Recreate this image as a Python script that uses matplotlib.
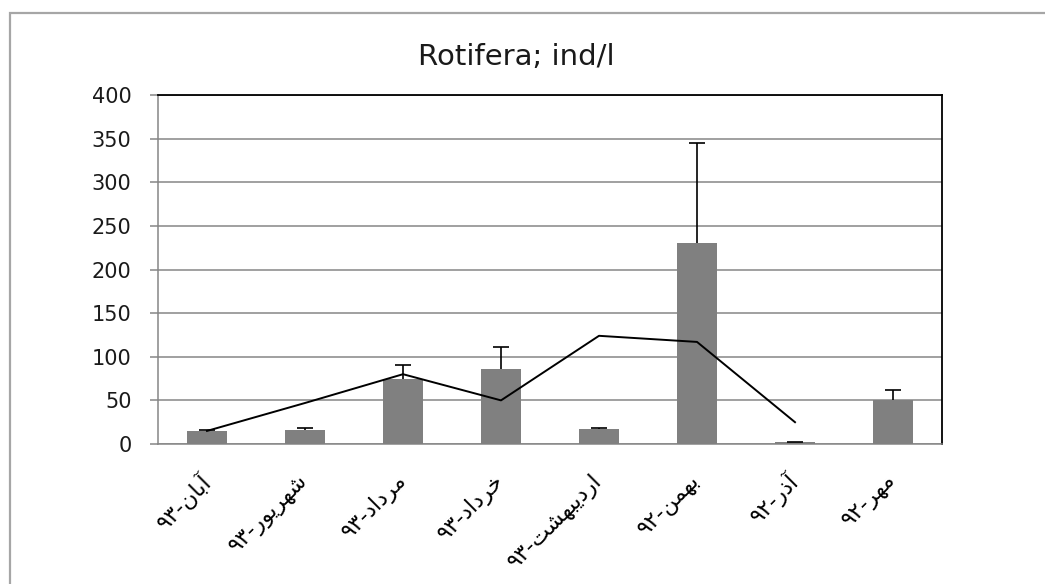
import matplotlib
matplotlib.use("Agg")
import matplotlib.pyplot as plt
from matplotlib.patches import Rectangle

# ---- data -------------------------------------------------------------
months = ["آبان-۹۳", "شهریور-۹۳", "مرداد-۹۳", "خرداد-۹۳",
          "اردیبهشت-۹۳", "بهمن-۹۲", "آذر-۹۲", "مهر-۹۲"]
mean_density = [15, 16, 74, 86, 17, 230, 2, 50]
upper_error = [0.5, 2, 16, 25, 1.5, 115, 0.5, 12]
trend = [15, 47, 80, 50, 124, 117, 25]
y_ticks = [0, 50, 100, 150, 200, 250, 300, 350, 400]
title = "Rotifera; ind/l"

# ---- minimal Persian shaping (presentation forms, visual order) --------
# letter: (isolated, final, initial, medial)
FORMS = {
    "آ": ("\uFE81", "\uFE82", None, None),
    "ا": ("\uFE8D", "\uFE8E", None, None),
    "ب": ("\uFE8F", "\uFE90", "\uFE91", "\uFE92"),
    "ت": ("\uFE95", "\uFE96", "\uFE97", "\uFE98"),
    "خ": ("\uFEA5", "\uFEA6", "\uFEA7", "\uFEA8"),
    "د": ("\uFEA9", "\uFEAA", None, None),
    "ذ": ("\uFEAB", "\uFEAC", None, None),
    "ر": ("\uFEAD", "\uFEAE", None, None),
    "ش": ("\uFEB5", "\uFEB6", "\uFEB7", "\uFEB8"),
    "م": ("\uFEE1", "\uFEE2", "\uFEE3", "\uFEE4"),
    "ن": ("\uFEE5", "\uFEE6", "\uFEE7", "\uFEE8"),
    "ه": ("\uFEE9", "\uFEEA", "\uFEEB", "\uFEEC"),
    "و": ("\uFEED", "\uFEEE", None, None),
    "ی": ("\uFBFC", "\uFBFD", "\uFEF3", "\uFEF4"),
}


def dual(ch):
    return ch in FORMS and FORMS[ch][2] is not None


def shape_word(word):
    out = []
    for i, ch in enumerate(word):
        if ch not in FORMS:
            out.append(ch)
            continue
        prev_joins = i > 0 and dual(word[i - 1])
        next_joins = dual(ch) and i + 1 < len(word) and word[i + 1] in FORMS
        iso, fin, ini, med = FORMS[ch]
        if prev_joins and next_joins:
            out.append(med)
        elif prev_joins:
            out.append(fin)
        elif next_joins:
            out.append(ini)
        else:
            out.append(iso)
    return "".join(out)


def visual(label):
    word, year = label.split("-")
    return year + "-" + shape_word(word)[::-1]


# ---- figure -------------------------------------------------------------
plt.rcParams["font.family"] = ["DejaVu Sans"]
fig = plt.figure(figsize=(10.45, 5.84), dpi=100)
fig.patch.set_facecolor("white")

# outer chart frame
fig.patches.append(Rectangle((10 / 1045, -0.1), 1.2, 1.1 - 13 / 584,
                             transform=fig.transFigure, fill=False,
                             edgecolor="#a6a6a6", linewidth=1.6))

ax = fig.add_axes([158 / 1045, 1 - 444 / 584, 784 / 1045, 349 / 584])
x = list(range(len(months)))

ax.bar(x, mean_density, width=0.4, color="#808080", zorder=3)
_, caps, _ = ax.errorbar(x, mean_density,
                         yerr=[[0] * len(upper_error), upper_error],
                         fmt="none", ecolor="black", elinewidth=1.2,
                         capsize=5.5, capthick=1.2, zorder=4)
caps[0].set_visible(False)  # upper-only error bars
ax.plot(range(len(trend)), trend, color="black", linewidth=1.4, zorder=5)

ax.set_xlim(-0.5, len(months) - 0.5)
ax.set_ylim(0, 400)
ax.set_yticks(y_ticks)
ax.yaxis.grid(True, color="#868686", linewidth=1.1, zorder=0)
ax.set_axisbelow(True)

for side in ("left", "bottom"):
    ax.spines[side].set_color("#868686")
    ax.spines[side].set_linewidth(1.1)
for side in ("top", "right"):
    ax.spines[side].set_color("black")
    ax.spines[side].set_linewidth(1.3)

ax.tick_params(axis="y", length=6, width=1.1, color="#868686",
               labelsize=15, labelcolor="#1a1a1a", pad=13)
ax.tick_params(axis="x", length=0, pad=24)
ax.set_xticks(x)
ax.set_xticklabels([visual(m) for m in months], rotation=45, ha="right",
                   va="center", rotation_mode="anchor", fontsize=16,
                   color="black")

fig.text(516 / 1045, 1 - 57 / 584, title, ha="center", va="center",
         fontsize=21, color="#1a1a1a")

fig.savefig("out.png", dpi=100)
